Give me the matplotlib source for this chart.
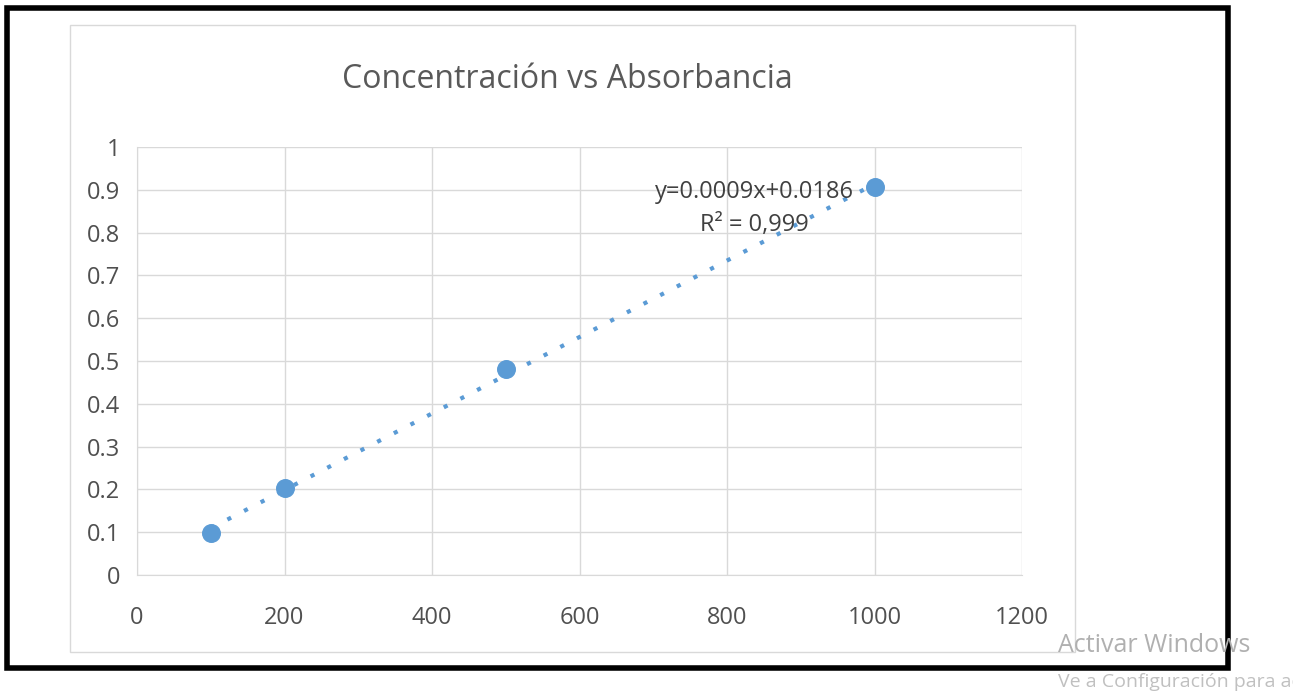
import numpy as np
import matplotlib
matplotlib.use("Agg")
import matplotlib.pyplot as plt
from matplotlib.patches import Rectangle

# datos
concentracion = [100, 200, 500, 1000]
absorbancia = [0.097, 0.203, 0.482, 0.906]
xticks = [0, 200, 400, 600, 800, 1000, 1200]
yticks = [0, 0.1, 0.2, 0.3, 0.4, 0.5, 0.6, 0.7, 0.8, 0.9, 1]
ytick_labels = ['0', '0.1', '0.2', '0.3', '0.4', '0.5', '0.6', '0.7', '0.8', '0.9', '1']

plt.rcParams['font.family'] = ['Open Sans', 'DejaVu Sans']

fig = plt.figure(figsize=(12.93, 6.97), dpi=100)

# marco negro exterior y marco gris del grafico
fig.patches.append(Rectangle((7/1293, 1-668/697), 1221/1293, 660/697, transform=fig.transFigure,
                             fill=False, edgecolor='black', linewidth=4))
fig.patches.append(Rectangle((70/1293, 1-652/697), 1005/1293, 627/697, transform=fig.transFigure,
                             fill=False, edgecolor='#d9d9d9', linewidth=1))

ax = fig.add_axes([137/1293, 1-575/697, 885/1293, 428/697])

ax.scatter(concentracion, absorbancia, s=160, color='#5b9bd5', zorder=3)

# linea de tendencia
m, b = np.polyfit(concentracion, absorbancia, 1)
xs = np.array([min(concentracion), max(concentracion)])
ax.plot(xs, m * xs + b, linestyle=(0, (1, 3.5)), linewidth=3, color='#5b9bd5', zorder=2)

ax.text(837, 0.895, 'y=0.0009x+0.0186', fontsize=17, color='#404040', ha='center', va='center')
ax.text(837, 0.818, 'R² = 0,999', fontsize=17, color='#404040', ha='center', va='center')

ax.set_xlim(0, 1200)
ax.set_ylim(0, 1)
ax.set_xticks(xticks)
ax.set_yticks(yticks)
ax.set_yticklabels(ytick_labels)
ax.tick_params(length=0, labelsize=17, labelcolor='#505050')
ax.tick_params(axis='x', pad=22)
ax.tick_params(axis='y', pad=12)
ax.grid(True, color='#d9d9d9', linewidth=1)
for s in ['top', 'right']:
    ax.spines[s].set_visible(False)
for s in ['left', 'bottom']:
    ax.spines[s].set_color('#d9d9d9')

fig.text(567/1293, 1-80/697, 'Concentración vs Absorbancia', fontsize=23, color='#595959',
         ha='center', va='center')

# marca de agua de Windows
fig.text(1058/1293, 1-645/697, 'Activar Windows', fontsize=18, color='#b0b0b0', ha='left', va='center')
fig.text(1058/1293, 1-682/697, 'Ve a Configuración para activar Windows', fontsize=14, color='#c0c0c0',
         ha='left', va='center')

fig.savefig('out.png', dpi=100)
